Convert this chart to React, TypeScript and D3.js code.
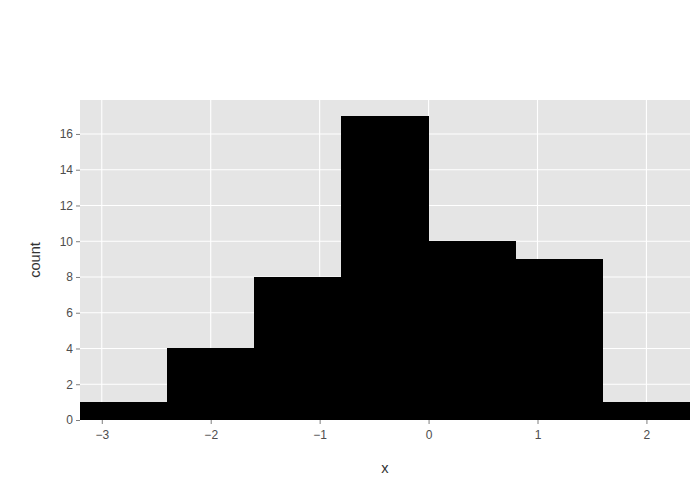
import { useEffect, useRef } from "react";
import * as d3 from "d3";

// Histogram bins (edges) and counts
const binEdges = [-3.2, -2.4, -1.6, -0.8, 0, 0.8, 1.6, 2.4];
const counts = [1, 4, 8, 17, 10, 9, 1];
const xTicks = [-3, -2, -1, 0, 1, 2];
const yTicks = [0, 2, 4, 6, 8, 10, 12, 14, 16];

const width = 700;
const height = 500;
const margin = { top: 100, right: 10, bottom: 80, left: 80 };

export default function App() {
  const svgRef = useRef<SVGSVGElement>(null);

  useEffect(() => {
    const svg = d3.select(svgRef.current);
    svg.selectAll("*").remove();

    const xScale = d3
      .scaleLinear()
      .domain([-3.2, 2.4])
      .range([margin.left, width - margin.right]);

    const yScale = d3
      .scaleLinear()
      .domain([0, 17.9])
      .range([height - margin.bottom, margin.top]);

    const font = "'Liberation Sans', Arial, sans-serif";

    // Panel background
    svg
      .append("rect")
      .attr("x", margin.left)
      .attr("y", margin.top)
      .attr("width", width - margin.left - margin.right)
      .attr("height", height - margin.top - margin.bottom)
      .attr("fill", "#e5e5e5");

    // Grid lines
    svg
      .append("g")
      .selectAll("line")
      .data(yTicks)
      .join("line")
      .attr("x1", margin.left)
      .attr("x2", width - margin.right)
      .attr("y1", (d) => yScale(d))
      .attr("y2", (d) => yScale(d))
      .attr("stroke", "#fff")
      .attr("stroke-width", 1.1);

    svg
      .append("g")
      .selectAll("line")
      .data(xTicks)
      .join("line")
      .attr("x1", (d) => xScale(d))
      .attr("x2", (d) => xScale(d))
      .attr("y1", margin.top)
      .attr("y2", height - margin.bottom)
      .attr("stroke", "#fff")
      .attr("stroke-width", 1.1);

    // Bars
    svg
      .append("g")
      .selectAll("rect")
      .data(counts)
      .join("rect")
      .attr("x", (_, i) => xScale(binEdges[i]))
      .attr("width", (_, i) => xScale(binEdges[i + 1]) - xScale(binEdges[i]))
      .attr("y", (d) => yScale(d))
      .attr("height", (d) => yScale(0) - yScale(d))
      .attr("fill", "#000")
      .attr("shape-rendering", "crispEdges");

    // X axis
    const xAxis = d3
      .axisBottom(xScale)
      .tickValues(xTicks)
      .tickSize(4)
      .tickPadding(6)
      .tickFormat((d) => d3.format("d")(d as number).replace("-", "\u2212"));

    const gx = svg
      .append("g")
      .attr("transform", `translate(0, ${height - margin.bottom})`)
      .call(xAxis);
    gx.select(".domain").remove();
    gx.selectAll("line").attr("stroke", "#7f7f7f");
    gx.selectAll("text")
      .attr("fill", "#4d4d4d")
      .style("font-family", font)
      .style("font-size", "12px");

    // Y axis
    const yAxis = d3
      .axisLeft(yScale)
      .tickValues(yTicks)
      .tickSize(4)
      .tickPadding(3)
      .tickFormat(d3.format("d"));

    const gy = svg
      .append("g")
      .attr("transform", `translate(${margin.left}, 0)`)
      .call(yAxis);
    gy.select(".domain").remove();
    gy.selectAll("line").attr("stroke", "#7f7f7f");
    gy.selectAll("text")
      .attr("fill", "#4d4d4d")
      .style("font-family", font)
      .style("font-size", "12px");

    // Axis titles
    svg
      .append("text")
      .attr("x", (margin.left + width - margin.right) / 2)
      .attr("y", 473)
      .attr("text-anchor", "middle")
      .attr("fill", "#333")
      .style("font-family", font)
      .style("font-size", "14.6px")
      .text("x");

    svg
      .append("text")
      .attr("transform", `translate(40, ${(margin.top + height - margin.bottom) / 2}) rotate(-90)`)
      .attr("text-anchor", "middle")
      .attr("fill", "#333")
      .style("font-family", font)
      .style("font-size", "14.6px")
      .text("count");
  }, []);

  return (
    <svg
      ref={svgRef}
      width={width}
      height={height}
      style={{ position: "absolute", left: 0, top: 0, background: "#fff" }}
    />
  );
}
